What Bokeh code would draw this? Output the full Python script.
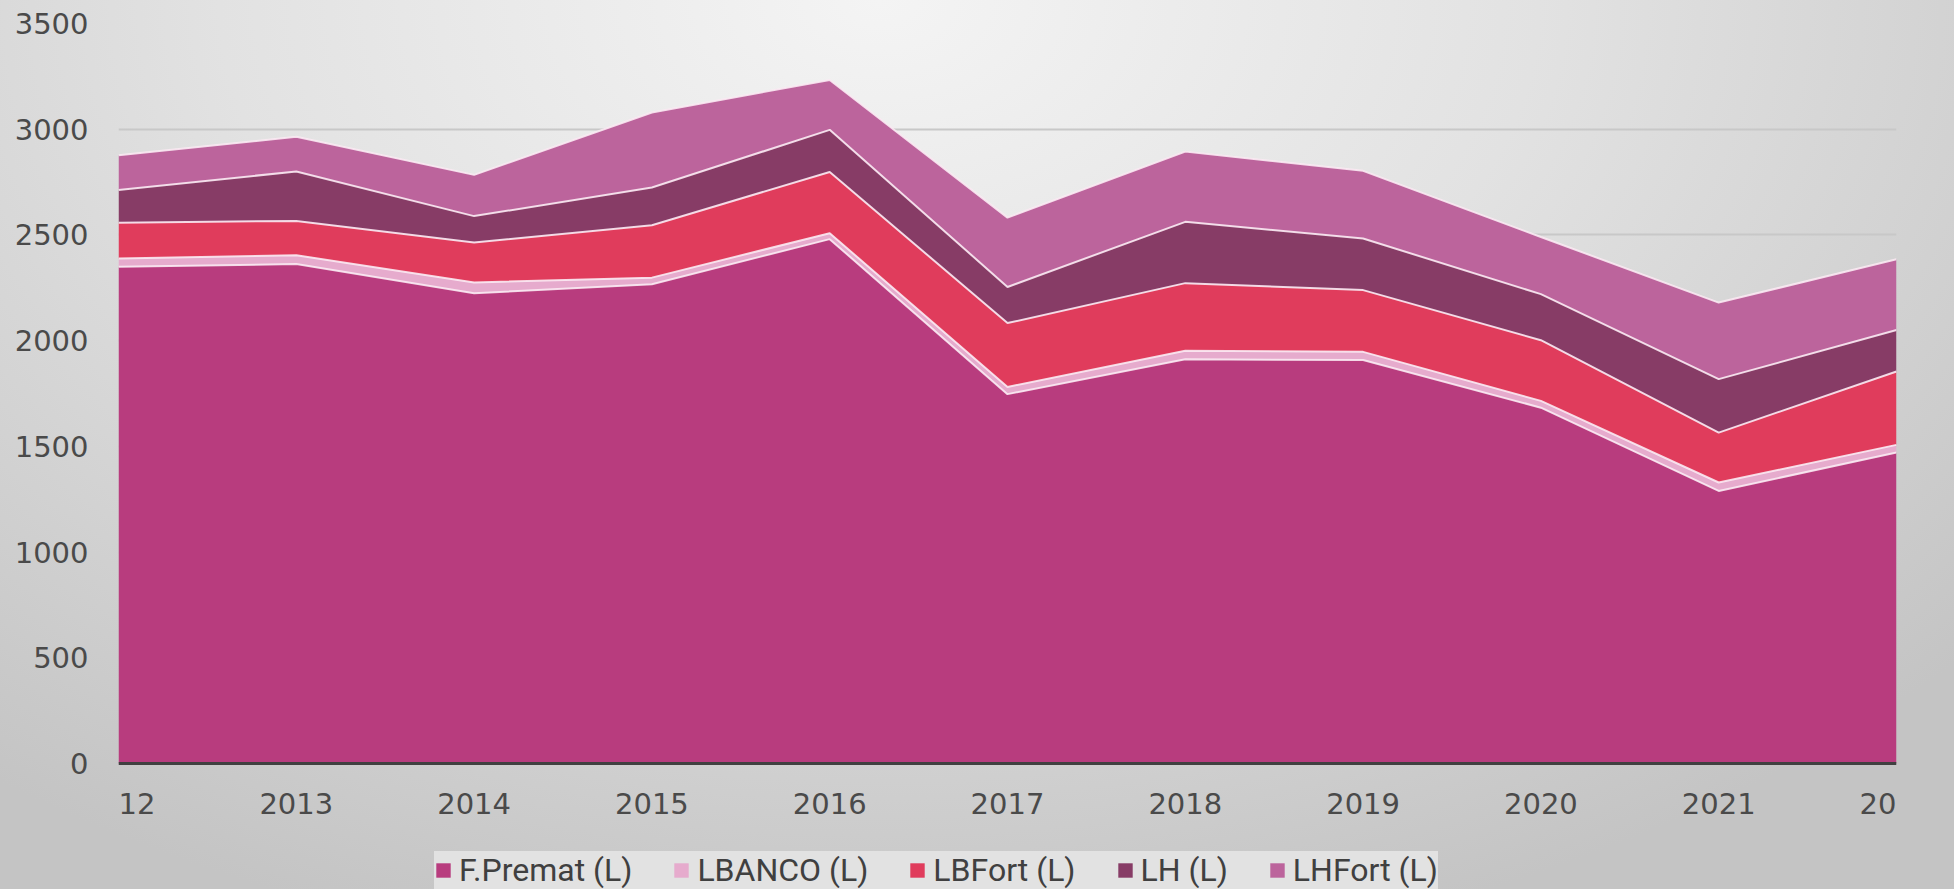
from bokeh.plotting import figure
from bokeh.models import ColumnDataSource, Legend, LegendItem, FixedTicker, Range1d
from bokeh.embed import file_html
from bokeh.resources import INLINE

# ---- data ----
years = [2012, 2013, 2014, 2015, 2016, 2017, 2018, 2019, 2020, 2021, 2022]
series_labels = ["F.Premat (L)", "LBANCO (L)", "LBFort (L)", "LH (L)", "LHFort (L)"]
f_premat = [2350, 2362, 2224, 2267, 2480, 1747, 1912, 1908, 1683, 1289, 1471]
lbanco   = [38, 42, 51, 31, 28, 34, 40, 39, 32, 40, 36]
lbfort   = [170, 162, 189, 248, 290, 302, 320, 292, 287, 236, 347]
lh       = [155, 234, 125, 178, 199, 171, 290, 244, 218, 253, 196]
lhfort   = [164, 164, 195, 355, 236, 328, 332, 320, 270, 362, 335]
y_ticks = [0, 500, 1000, 1500, 2000, 2500, 3000, 3500]

colors = ["#b83c7e", "#e6abcd", "#e03c5c", "#873c66", "#bc649c"]
keys = ["fp", "lb", "lbf", "lh", "lhf"]

src = ColumnDataSource(dict(year=years, fp=f_premat, lb=lbanco, lbf=lbfort, lh=lh, lhf=lhfort))

# frame reaches the bottom of the canvas; the x axis is pinned at y = 0 inside it
p = figure(frame_width=1778, frame_height=866, output_backend="svg", toolbar_location=None,
           x_range=Range1d(2012, 2022), y_range=Range1d(-596, 3500),
           min_border_left=118, min_border_right=58, min_border_top=23, min_border_bottom=0)

p.border_fill_color = None
p.background_fill_color = None
p.outline_line_color = None
p.styles = {"background": "radial-gradient(ellipse 75% 110% at 45% 0%, #f4f4f4 0%, #e2e2e2 45%, #c4c4c4 100%)"}

areas = p.varea_stack(stackers=keys, x="year", color=colors, source=src)
p.vline_stack(stackers=keys, x="year", source=src, line_color="#fbeaf3", line_width=2, line_alpha=0.9)

# axes
p.xaxis.fixed_location = 0
p.xaxis.ticker = FixedTicker(ticks=years)
p.yaxis.ticker = FixedTicker(ticks=y_ticks)
for ax in (p.xaxis, p.yaxis):
    ax.major_tick_line_color = None
    ax.minor_tick_line_color = None
    ax.major_label_text_font = "DejaVu Sans"
    ax.major_label_text_font_size = "29px"
    ax.major_label_text_color = "#4a4a4a"
p.xaxis.axis_line_color = "#404040"
p.xaxis.axis_line_width = 3
p.xaxis.major_label_standoff = 24
p.yaxis.axis_line_color = None
p.yaxis.major_label_standoff = 24

p.xgrid.grid_line_color = None
p.ygrid.grid_line_color = "#c8c8c8"
p.ygrid.grid_line_width = 2

legend = Legend(items=[LegendItem(label=lab, renderers=[r]) for lab, r in zip(series_labels, areas)],
                orientation="horizontal", location=(316, 0))
legend.background_fill_color = "#e2e2e2"
legend.background_fill_alpha = 1
legend.border_line_color = None
legend.label_text_font = "Roboto"
legend.label_text_font_size = "32px"
legend.label_text_color = "#404040"
legend.glyph_width = 18
legend.glyph_height = 18
legend.label_standoff = 7
legend.spacing = 40
legend.padding = 5
legend.margin = 0
p.add_layout(legend)

open("out.html", "w").write(file_html(p, INLINE))
